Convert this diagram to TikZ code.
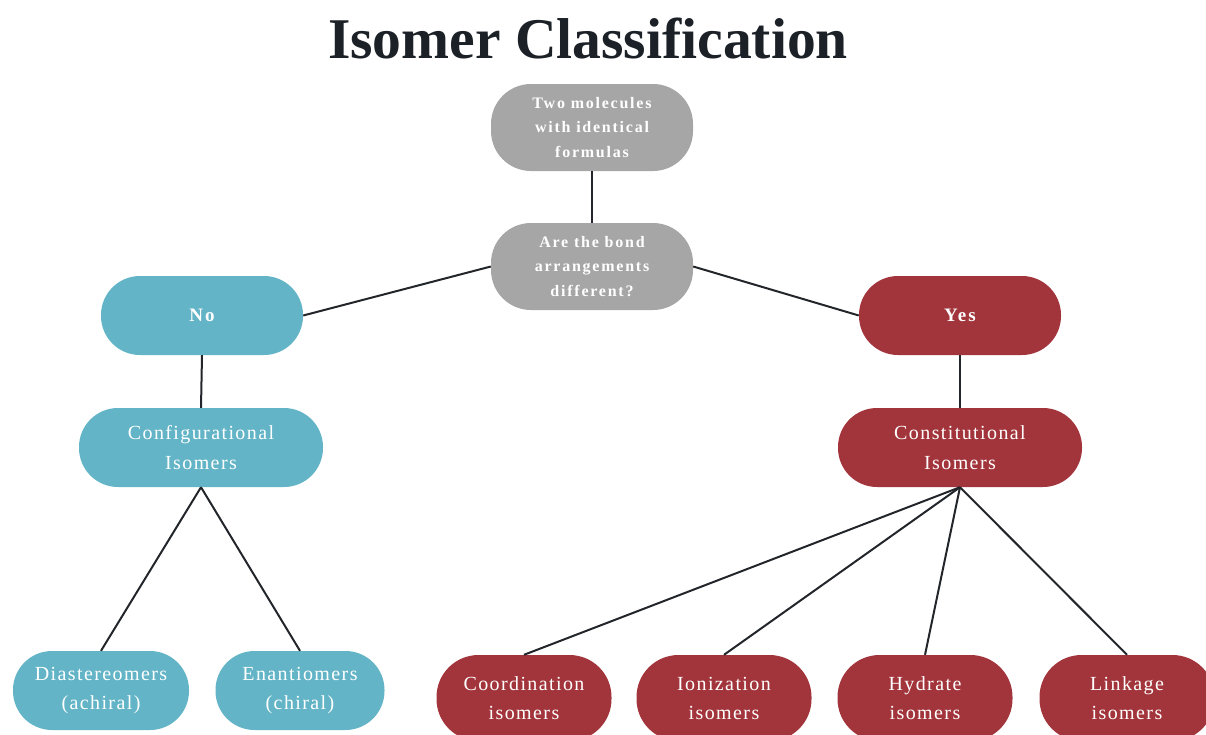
\documentclass[tikz,border=0pt]{standalone}
\usepackage{fontspec}
\setmainfont{Liberation Serif}
\newfontfamily\spfont[LetterSpace=7]{Liberation Serif}
\newfontfamily\spbfont[LetterSpace=11]{Liberation Serif Bold}
\definecolor{grayfill}{HTML}{A6A6A6}
\definecolor{tealfill}{HTML}{62B4C6}
\definecolor{redfill}{HTML}{A2353B}
\definecolor{linecol}{HTML}{22262A}
\definecolor{titlecol}{HTML}{1C2127}
\begin{document}
\begin{tikzpicture}[x=1pt,y=-1pt,
  box/.style={rectangle,rounded corners=#1,inner sep=0pt,align=center,text=white},
  graybox/.style={box=40pt,fill=grayfill,minimum width=202pt,minimum height=87pt,font=\spbfont\fontsize{16}{24.5}\selectfont},
  ansbox/.style={box=39pt,minimum width=202pt,minimum height=79pt,font=\spbfont\fontsize{19}{24}\selectfont},
  midbox/.style={box=39pt,minimum width=244pt,minimum height=79pt,font=\spfont\fontsize{20}{30}\selectfont},
  leafbox/.style={box=39pt,minimum height=79pt,font=\spfont\fontsize{20}{29}\selectfont},
  redleaf/.style={box=42pt,fill=redfill,minimum width=175pt,minimum height=86pt,font=\spfont\fontsize{20}{29}\selectfont},
  conn/.style={draw=linecol,line width=2pt}]
\useasboundingbox (0,0) rectangle (1206,734);
\node[font=\bfseries\fontsize{57.6}{60}\selectfont,text=titlecol,anchor=base] (title) at (588,58) {Isomer Classification};
\node[graybox] (top) at (592,127.5) {Two molecules\\with identical\\formulas};
\node[graybox] (q) at (592,266.5) {Are the bond\\arrangements\\different?};
\node[ansbox,fill=tealfill] (no) at (202,315.5) {No};
\node[ansbox,fill=redfill] (yes) at (960,315.5) {Yes};
\node[midbox,fill=tealfill] (conf) at (201,447.5) {Configurational\\Isomers};
\node[midbox,fill=redfill] (cons) at (960,447.5) {Constitutional\\Isomers};
\node[leafbox,fill=tealfill,minimum width=176pt] (dia) at (101,690.5) {Diastereomers\\(achiral)};
\node[leafbox,fill=tealfill,minimum width=169pt] (ena) at (300,690.5) {Enantiomers\\(chiral)};
\node[redleaf] (coord) at (524,698) {Coordination\\isomers};
\node[redleaf] (ion) at (724,698) {Ionization\\isomers};
\node[redleaf] (hyd) at (925,698) {Hydrate\\isomers};
\node[redleaf] (link) at (1127,698) {Linkage\\isomers};
\draw[conn] (top.south) -- (q.north);
\draw[conn] (q.west) -- (no.east);
\draw[conn] (q.east) -- (yes.west);
\draw[conn] (no.south) -- (conf.north);
\draw[conn] (yes.south) -- (cons.north);
\draw[conn] (conf.south) -- (dia.north);
\draw[conn] (conf.south) -- (ena.north);
\draw[conn] (cons.south) -- (coord.north);
\draw[conn] (cons.south) -- (ion.north);
\draw[conn] (cons.south) -- (hyd.north);
\draw[conn] (cons.south) -- (link.north);
\end{tikzpicture}
\end{document}
